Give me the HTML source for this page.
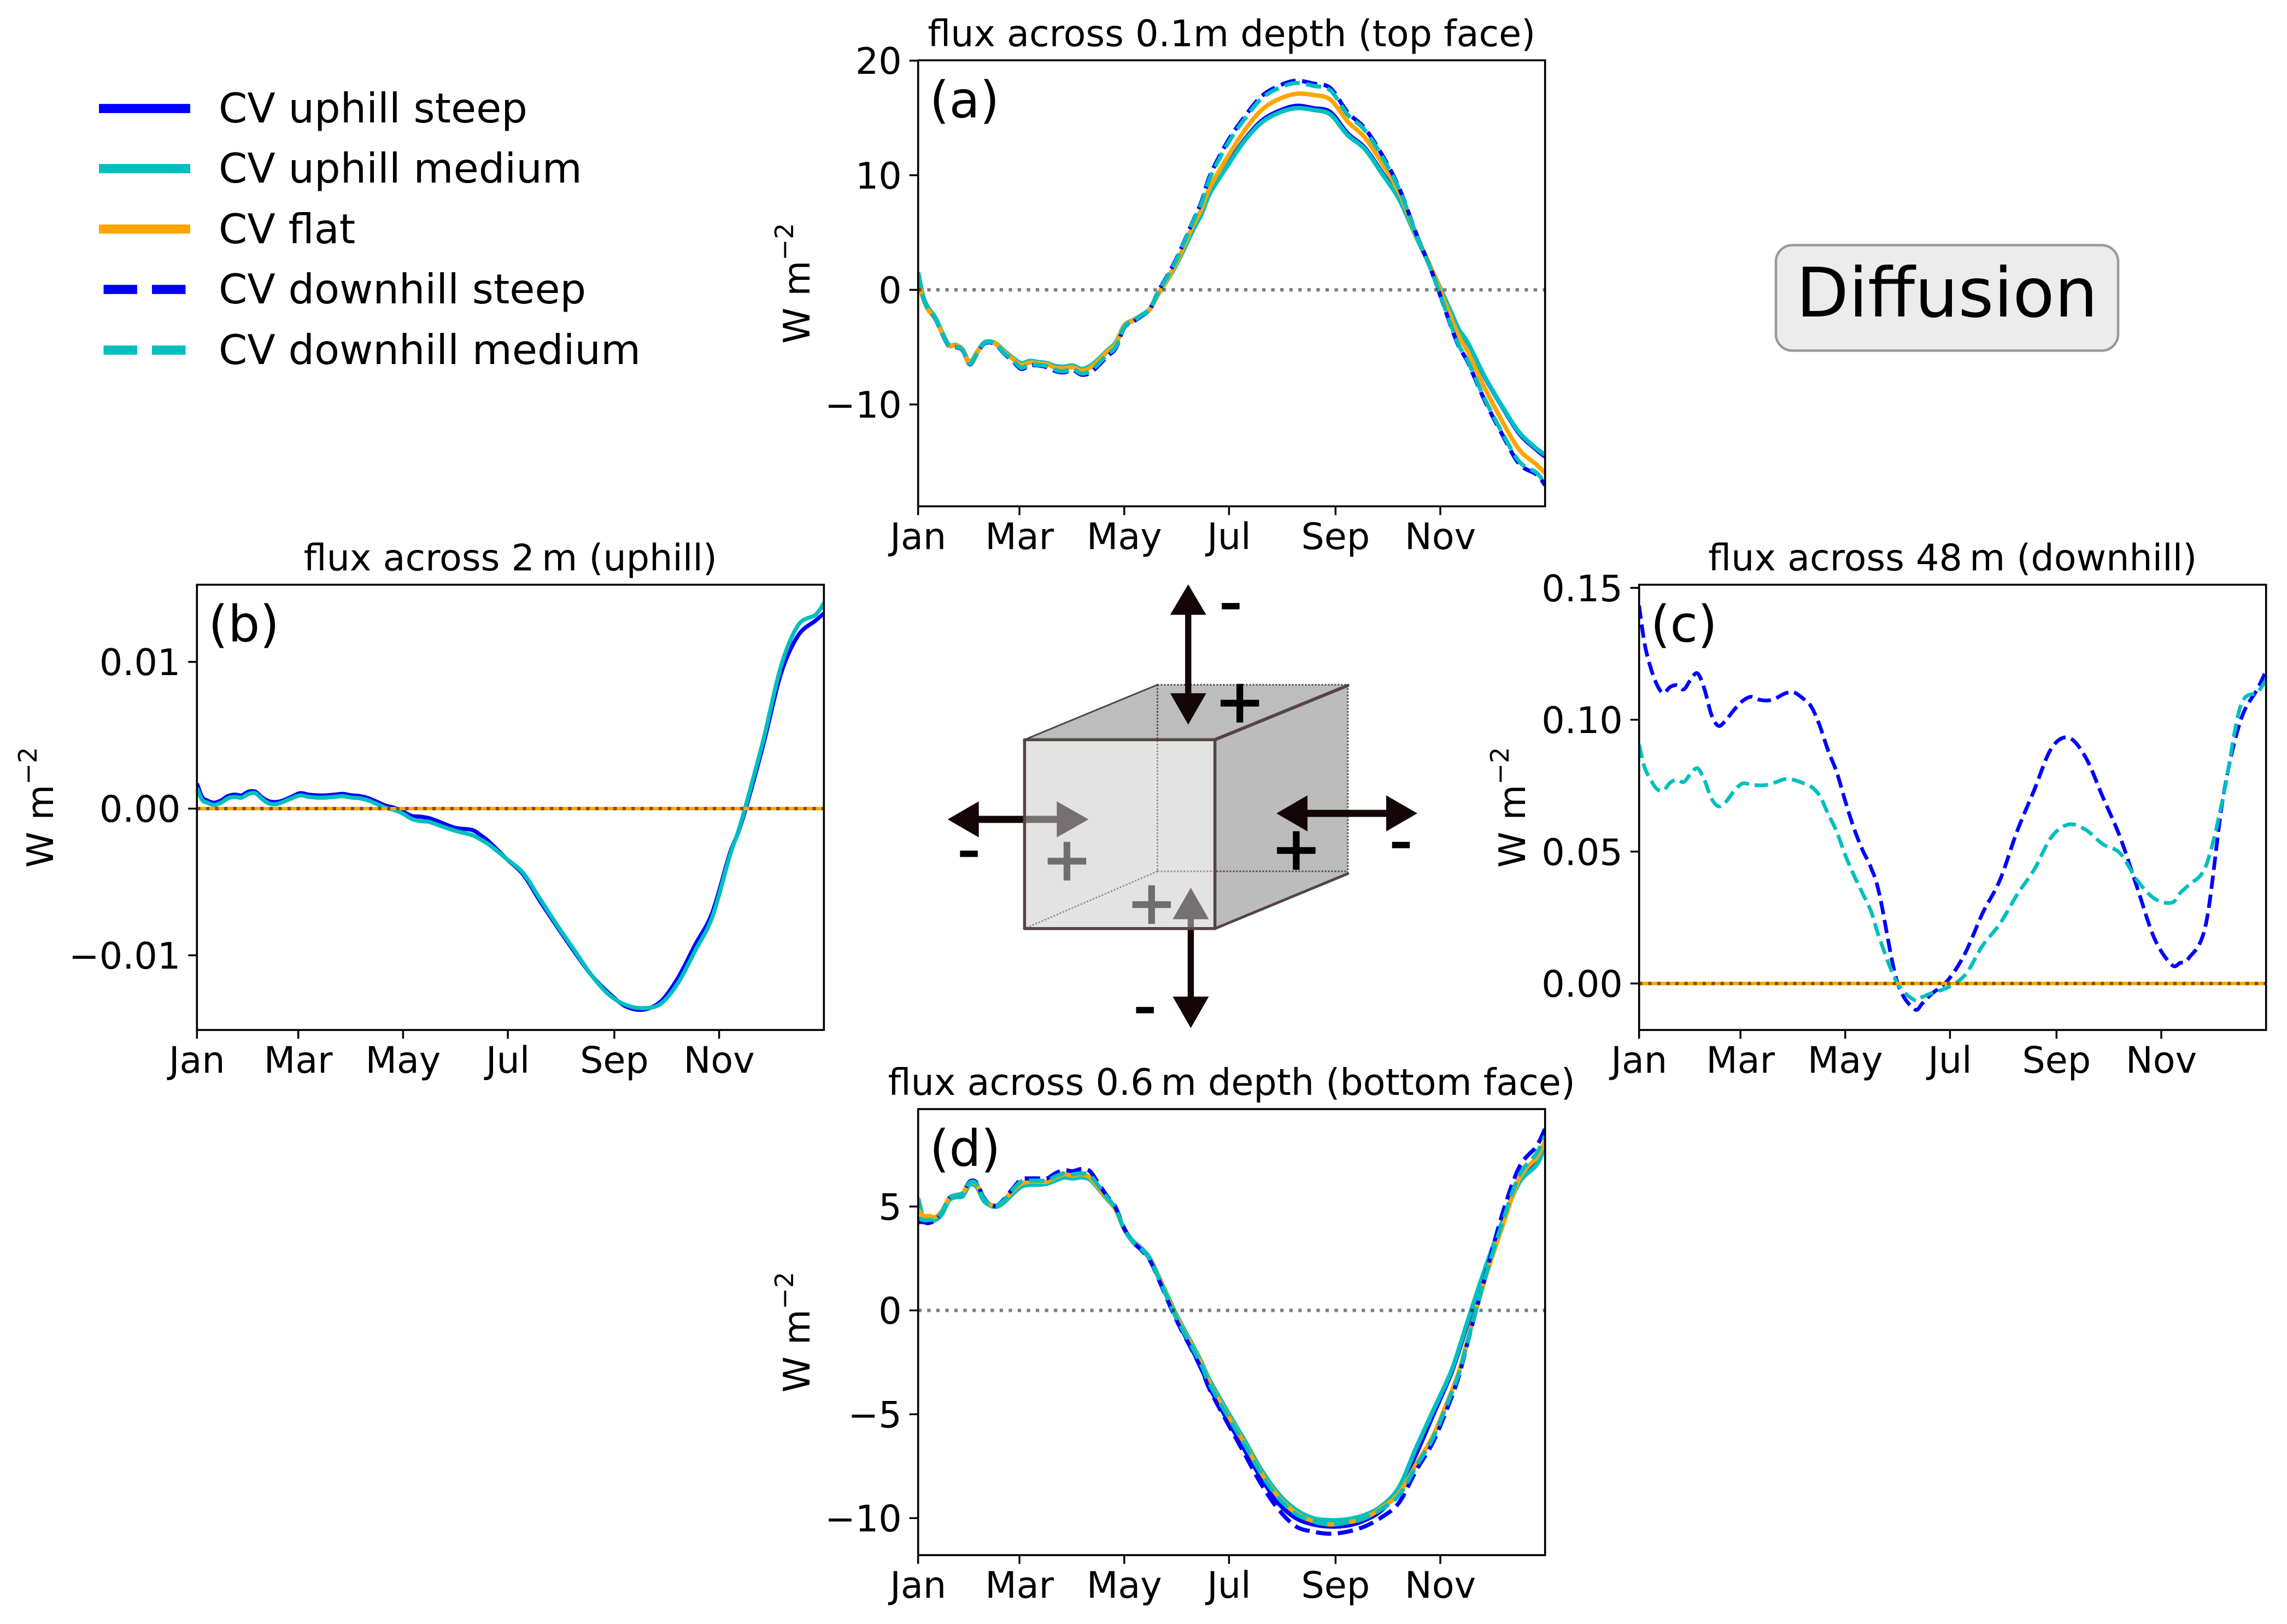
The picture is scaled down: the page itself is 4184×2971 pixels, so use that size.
<!DOCTYPE html>
<html lang="en">
<head>
<meta charset="utf-8">
<title>Diffusion flux across control volume faces</title>
<style>
html,body{margin:0;padding:0;background:#fff;width:4184px;height:2971px;overflow:hidden}
svg{display:block;position:absolute;left:0;top:0}
text{font-family:"DejaVu Sans","Liberation Sans",sans-serif;fill:#000}
</style>
</head>
<body>
<svg id="figure" xmlns="http://www.w3.org/2000/svg" width="4184" height="2971" viewBox="0 0 4184 2971">
  <rect x="0" y="0" width="4184" height="2971" fill="#ffffff"/>

  <g>
    <g>
      <line x1="181" x2="348" y1="198.5" y2="198.5" stroke="#0000ff" stroke-width="16.7"/>
      <text x="400" y="224" font-size="75">CV uphill steep</text>
    </g>
    <g>
      <line x1="181" x2="348" y1="308.5" y2="308.5" stroke="#00bfbf" stroke-width="16.7"/>
      <text x="400" y="334" font-size="75">CV uphill medium</text>
    </g>
    <g>
      <line x1="181" x2="348" y1="419" y2="419" stroke="#ffa500" stroke-width="16.7"/>
      <text x="400" y="445" font-size="75">CV flat</text>
    </g>
    <g>
      <line x1="189.5" x2="339.5" y1="529.5" y2="529.5" stroke="#0000ff" stroke-width="16.7" stroke-dasharray="61.5 27"/>
      <text x="400" y="555" font-size="75">CV downhill steep</text>
    </g>
    <g>
      <line x1="189.5" x2="339.5" y1="640.5" y2="640.5" stroke="#00bfbf" stroke-width="16.7" stroke-dasharray="61.5 27"/>
      <text x="400" y="666" font-size="75">CV downhill medium</text>
    </g>
  </g>

  <g>
    <rect x="3249" y="448.5" width="626" height="193" rx="30" ry="30" fill="#ececec" stroke="#999999" stroke-width="4.5"/>
    <text x="3562" y="579" font-size="125" text-anchor="middle">Diffusion</text>
  </g>

  <g>
    <polygon points="1874.4,1353.2 2117.5,1252.7 2465.8,1252.7 2222.7,1353.2" fill="#bdbdbd"/>
    <polygon points="2222.7,1353.2 2465.8,1255 2465.8,1598.3 2222.7,1698.8" fill="#bcbcbc"/>
    <g fill="none" stroke="#554545" stroke-width="3" stroke-dasharray="3 3">
      <line x1="2117.5" y1="1252.7" x2="2117.5" y2="1594"/>
      <line x1="2117.5" y1="1594" x2="2465.8" y2="1594"/>
      <line x1="2117.5" y1="1594" x2="1874.4" y2="1698.8"/>
      <line x1="2117.5" y1="1252.7" x2="2465.8" y2="1252.7"/>
      <line x1="2465.8" y1="1252.7" x2="2465.8" y2="1598.3"/>
    </g>
    <g fill="#140606">
      <rect x="1790" y="1492.5" width="145" height="13"/>
      <polygon points="1733.7,1499 1790.7,1466 1790.7,1532"/>
      <polygon points="1991.6,1499 1933.3,1466 1933.3,1532"/>
    </g>
    <g fill="#140606">
      <rect x="2172.8" y="1681" width="11.4" height="143"/>
      <polygon points="2178.5,1624 2145.5,1681.6 2211.5,1681.6"/>
      <polygon points="2178.5,1880.7 2145.5,1823.3 2211.5,1823.3"/>
    </g>
    <text x="1952" y="1608.8" font-size="107" text-anchor="middle" style="fill:#000;stroke:#000;stroke-width:3.5">+</text>
    <text x="2106.8" y="1688.7" font-size="107" text-anchor="middle" style="fill:#000;stroke:#000;stroke-width:3.5">+</text>
    <rect x="1874.4" y="1353.2" width="348.3" height="345.6" fill="#cccccc" fill-opacity="0.54"/>
    <g fill="none" stroke="#554545" stroke-linejoin="round" stroke-linecap="round">
      <rect x="1874.4" y="1353.2" width="348.3" height="345.6" stroke-width="5.5"/>
      <line x1="1874.4" y1="1353.2" x2="2117.5" y2="1252.7" stroke-width="3"/>
      <line x1="2222.7" y1="1353.2" x2="2465.8" y2="1254" stroke-width="6"/>
      <line x1="2222.7" y1="1698.8" x2="2465.8" y2="1598.3" stroke-width="5"/>
    </g>
    <g fill="#140606">
      <rect x="2168.1" y="1124" width="11.4" height="145"/>
      <polygon points="2173.8,1069 2140.8,1124.7 2206.8,1124.7"/>
      <polygon points="2173.8,1325.6 2140.8,1268.2 2206.8,1268.2"/>
    </g>
    <g fill="#140606">
      <rect x="2391" y="1481.5" width="146" height="13"/>
      <polygon points="2335.2,1488 2392,1455 2392,1521"/>
      <polygon points="2593,1488 2536,1455 2536,1521"/>
    </g>
    <text x="2268.2" y="1320.1" font-size="107" text-anchor="middle" style="fill:#000;stroke:#000;stroke-width:3.5">+</text>
    <text x="2371.4" y="1589.3" font-size="107" text-anchor="middle" style="fill:#000;stroke:#000;stroke-width:3.5">+</text>
    <text x="2251.5" y="1140.2" font-size="114" text-anchor="middle" style="fill:#000;stroke:#000;stroke-width:2.5">-</text>
    <text x="1772.6" y="1593.2" font-size="114" text-anchor="middle" style="fill:#000;stroke:#000;stroke-width:2.5">-</text>
    <text x="2563" y="1577" font-size="114" text-anchor="middle" style="fill:#000;stroke:#000;stroke-width:2.5">-</text>
    <text x="2094.7" y="1879" font-size="114" text-anchor="middle" style="fill:#000;stroke:#000;stroke-width:2.5">-</text>
  </g>
</svg>

<script>
const days = [0,3,6,10,14,18,22,26,30,34,38,42,46,50,55,60,65,70,75,80,85,90,95,100,105,110,115,120,125,130,135,140,150,160,165,170,180,190,200,210,220,230,240,250,260,270,280,290,300,310,315,320,330,340,350,360,365];
const monthLabels = ['Jan','Mar','May','Jul','Sep','Nov'];
const monthDays = [0,59,120,181,243,304];

const aUpSteep = [1.5,-0.7,-1.6,-2.45,-3.75,-4.85,-4.85,-5.25,-6.4,-5.55,-4.7,-4.55,-4.8,-5.4,-6.0,-6.5,-6.3,-6.35,-6.5,-6.75,-6.8,-6.7,-7.0,-6.75,-6.15,-5.35,-4.7,-3.15,-2.7,-2.25,-1.65,-0.3,2.2,5.3,6.7,8.55,10.9,13.1,14.75,15.6,16.05,15.85,15.5,13.65,12.4,10.25,8.0,4.65,1.45,-1.9,-3.55,-4.65,-7.65,-10.2,-12.55,-13.95,-14.55];
const aUpMedium = [1.5,-0.6,-1.6,-2.4,-3.7,-4.8,-4.8,-5.2,-6.3,-5.5,-4.65,-4.5,-4.75,-5.3,-5.9,-6.4,-6.2,-6.3,-6.4,-6.65,-6.7,-6.6,-6.9,-6.65,-6.05,-5.3,-4.6,-3.1,-2.65,-2.2,-1.65,-0.35,2.1,5.2,6.6,8.45,10.8,13.0,14.6,15.45,15.85,15.7,15.3,13.5,12.3,10.15,7.9,4.6,1.45,-1.85,-3.5,-4.6,-7.6,-10.15,-12.45,-13.85,-14.4];
const aFlat = [0.7,-0.8,-1.8,-2.5,-3.8,-4.85,-4.85,-5.2,-6.35,-5.55,-4.7,-4.55,-4.8,-5.4,-6.0,-6.55,-6.35,-6.4,-6.5,-6.8,-6.85,-6.75,-7.05,-6.8,-6.2,-5.4,-4.75,-3.15,-2.7,-2.25,-1.7,-0.3,2.25,5.6,7.05,9.0,11.55,13.9,15.7,16.65,17.1,17.0,16.6,14.7,13.3,11.05,8.5,4.8,1.45,-2.35,-4.1,-5.4,-8.6,-11.45,-13.95,-15.25,-16.0];
const aDownSteep = [1.5,-0.7,-1.7,-2.5,-3.85,-4.95,-5.0,-5.3,-6.5,-5.65,-4.75,-4.6,-4.9,-5.55,-6.2,-6.9,-6.6,-6.6,-6.75,-7.1,-7.2,-7.0,-7.4,-7.25,-6.6,-5.8,-5.1,-3.3,-2.8,-2.3,-1.65,-0.1,2.6,6.0,7.7,10.0,12.9,15.1,16.9,17.8,18.25,18.0,17.6,15.5,14.1,11.8,8.9,4.9,1.2,-3.1,-5.0,-6.3,-9.7,-12.6,-15.2,-16.1,-17.05];
const aDownMedium = [1.5,-0.7,-1.7,-2.45,-3.8,-4.9,-4.95,-5.25,-6.45,-5.6,-4.7,-4.55,-4.85,-5.5,-6.1,-6.8,-6.5,-6.55,-6.65,-7.0,-7.1,-6.9,-7.3,-7.1,-6.45,-5.65,-5.0,-3.25,-2.75,-2.25,-1.65,-0.15,2.5,5.95,7.55,9.8,12.7,14.9,16.7,17.6,18.05,17.8,17.4,15.3,13.95,11.65,8.8,4.85,1.2,-3.0,-4.9,-6.2,-9.55,-12.45,-15.0,-15.95,-16.95];
const aTicks = [-10,0,10,20];
const aTickLabels = ['\u221210','0','10','20'];

const bUpSteep = [0.0017,0.0008,0.00055,0.0004,0.00055,0.00085,0.00095,0.0009,0.00115,0.00115,0.00075,0.0005,0.00045,0.00055,0.0008,0.00105,0.00095,0.0009,0.0009,0.00095,0.001,0.0009,0.00085,0.0007,0.00045,0.0002,0.00005,-0.0002,-0.0005,-0.00055,-0.00065,-0.00085,-0.0013,-0.00145,-0.0018,-0.00225,-0.0034,-0.0045,-0.00635,-0.0081,-0.0098,-0.0114,-0.0126,-0.0135,-0.0137,-0.01315,-0.01155,-0.0093,-0.0071,-0.00315,-0.00165,0.0002,0.0045,0.0092,0.0118,0.0128,0.0133];
const bUpMedium = [0.0014,0.0006,0.0004,0.00025,0.0004,0.0007,0.0008,0.00075,0.001,0.00105,0.00065,0.00035,0.0003,0.00045,0.0007,0.0009,0.0008,0.00075,0.00075,0.0008,0.00085,0.00075,0.0007,0.00055,0.0003,0.00005,-0.0001,-0.00035,-0.0007,-0.00085,-0.0009,-0.0011,-0.0015,-0.0018,-0.0021,-0.00245,-0.0034,-0.0044,-0.0062,-0.008,-0.0097,-0.0114,-0.0127,-0.0134,-0.0136,-0.0133,-0.0119,-0.0097,-0.0074,-0.0033,-0.0016,0.0004,0.0048,0.0097,0.0125,0.0132,0.014];
const bFlat = [0,0,0,0,0,0,0,0,0,0,0,0,0,0,0,0,0,0,0,0,0,0,0,0,0,0,0,0,0,0,0,0,0,0,0,0,0,0,0,0,0,0,0,0,0,0,0,0,0,0,0,0,0,0,0,0,0];
const bTicks = [-0.01,0,0.01];
const bTickLabels = ['\u22120.01','0.00','0.01'];

const cDownSteep = [0.1433,0.1296,0.1213,0.1138,0.1101,0.1124,0.1131,0.1115,0.1152,0.1176,0.1117,0.1021,0.0977,0.0994,0.1035,0.107,0.1087,0.1076,0.1073,0.1083,0.11,0.1104,0.1083,0.1052,0.098,0.0884,0.0802,0.0692,0.059,0.0507,0.0439,0.0336,0.0012,-0.0096,-0.0075,-0.0041,0.0014,0.0117,0.0267,0.0391,0.0576,0.0733,0.0891,0.0932,0.0857,0.0706,0.0555,0.0363,0.0171,0.0071,0.0078,0.0096,0.0226,0.0706,0.0994,0.1117,0.1186];
const cDownMedium = [0.0905,0.0823,0.0781,0.074,0.0731,0.0761,0.0772,0.0764,0.0795,0.0816,0.0772,0.0703,0.0672,0.0685,0.0727,0.0758,0.0754,0.0751,0.0754,0.0764,0.0775,0.0772,0.0761,0.0747,0.0713,0.0644,0.0576,0.0487,0.0411,0.0343,0.0274,0.0171,0.0005,-0.0062,-0.0051,-0.0037,-0.0014,0.0034,0.0144,0.0226,0.0336,0.0432,0.0555,0.0603,0.0583,0.0528,0.0494,0.0391,0.0322,0.0306,0.0343,0.0374,0.0446,0.0706,0.1049,0.1104,0.1152];
const cFlat = [0,0,0,0,0,0,0,0,0,0,0,0,0,0,0,0,0,0,0,0,0,0,0,0,0,0,0,0,0,0,0,0,0,0,0,0,0,0,0,0,0,0,0,0,0,0,0,0,0,0,0,0,0,0,0,0,0];
const cTicks = [0,0.05,0.1,0.15];
const cTickLabels = ['0.00','0.05','0.10','0.15'];

const dUpSteep = [5.4,4.45,4.4,4.35,4.7,5.35,5.5,5.6,6.1,6.0,5.35,5.05,5.0,5.25,5.7,6.05,6.1,6.1,6.1,6.3,6.45,6.4,6.45,6.35,5.9,5.4,4.85,3.9,3.3,2.95,2.45,1.6,-0.3,-1.95,-2.8,-3.75,-5.25,-6.7,-8.1,-9.3,-10.0,-10.3,-10.4,-10.35,-10.1,-9.6,-8.6,-6.9,-5.0,-3.1,-1.9,-0.6,1.9,4.2,6.2,7.1,8.0];
const dUpMedium = [5.4,4.45,4.4,4.35,4.65,5.3,5.45,5.5,6.05,5.95,5.3,5.05,5.0,5.2,5.6,5.95,6.05,6.05,6.1,6.25,6.4,6.35,6.4,6.3,5.85,5.35,4.85,3.9,3.35,3.0,2.5,1.65,-0.15,-1.7,-2.5,-3.4,-4.85,-6.25,-7.7,-8.85,-9.6,-10.0,-10.1,-10.05,-9.85,-9.4,-8.5,-6.6,-4.8,-3.0,-1.8,-0.5,2.0,4.25,6.15,7.0,7.9];
const dFlat = [4.85,4.55,4.55,4.5,4.8,5.4,5.55,5.65,6.15,6.05,5.4,5.1,5.05,5.3,5.75,6.1,6.2,6.2,6.2,6.4,6.55,6.5,6.55,6.4,5.9,5.4,4.85,3.9,3.3,2.95,2.45,1.6,-0.25,-1.8,-2.6,-3.55,-5.0,-6.4,-7.85,-9.0,-9.75,-10.15,-10.3,-10.2,-10.0,-9.5,-8.8,-7.4,-6.0,-4.0,-2.9,-1.4,1.5,4.0,6.35,7.35,8.15];
const dDownSteep = [4.25,4.25,4.2,4.35,4.75,5.4,5.55,5.65,6.2,6.15,5.45,5.1,5.05,5.35,5.85,6.3,6.35,6.35,6.35,6.6,6.75,6.7,6.8,6.7,6.1,5.5,4.95,3.95,3.3,2.9,2.4,1.5,-0.4,-2.0,-2.85,-3.85,-5.4,-6.9,-8.4,-9.6,-10.4,-10.65,-10.75,-10.65,-10.4,-9.95,-9.25,-7.7,-6.3,-4.3,-3.1,-1.5,1.6,4.6,6.9,7.9,8.75];
const dDownMedium = [4.45,4.35,4.35,4.4,4.75,5.4,5.55,5.65,6.15,6.1,5.4,5.1,5.05,5.3,5.8,6.2,6.25,6.25,6.25,6.45,6.6,6.55,6.6,6.5,6.0,5.45,4.9,3.9,3.3,2.95,2.45,1.55,-0.3,-1.85,-2.65,-3.6,-5.05,-6.45,-7.9,-9.05,-9.8,-10.15,-10.3,-10.2,-10.0,-9.55,-8.9,-7.5,-6.1,-4.1,-3.0,-1.45,1.55,4.2,6.5,7.55,8.4];
const dTicks = [-10,-5,0,5];
const dTickLabels = ['\u221210','\u22125','0','5'];

const SVG_NS = 'http://www.w3.org/2000/svg';
const figure = document.getElementById('figure');
const BLUE = '#0000ff', TEAL = '#00bfbf', ORANGE = '#ffa500';
const SOLID = 'none', DASHED = '28 12', DASHED_THIN = '24.5 10.5';
const TICK_FONT = 66.7;

function make(tag, attrs, parent) {
  const node = document.createElementNS(SVG_NS, tag);
  for (const key in attrs) node.setAttribute(key, attrs[key]);
  parent.appendChild(node);
  return node;
}

function smoothPath(xs, ys) {
  let d = 'M' + xs[0].toFixed(1) + ' ' + ys[0].toFixed(1);
  for (let i = 0; i < xs.length - 1; i++) {
    const p0 = Math.max(i - 1, 0), p3 = Math.min(i + 2, xs.length - 1);
    const c1x = xs[i] + (xs[i + 1] - xs[p0]) / 6, c1y = ys[i] + (ys[i + 1] - ys[p0]) / 6;
    const c2x = xs[i + 1] - (xs[p3] - xs[i]) / 6, c2y = ys[i + 1] - (ys[p3] - ys[i]) / 6;
    d += 'C' + c1x.toFixed(1) + ' ' + c1y.toFixed(1) + ' ' + c2x.toFixed(1) + ' ' + c2y.toFixed(1) + ' ' + xs[i + 1].toFixed(1) + ' ' + ys[i + 1].toFixed(1);
  }
  return d;
}

function drawPanel(p) {
  const panel = make('g', {}, figure);
  
  

  const xScale = day => p.left + (day / 365) * (p.right - p.left);
  const yScale = v => p.top + ((p.ymax - v) / (p.ymax - p.ymin)) * (p.bottom - p.top);

  const defs = make('defs', {}, panel);
  const clip = make('clipPath', { id: 'clip-' + p.id }, defs);
  make('rect', { x: p.left, y: p.top, width: p.right - p.left, height: p.bottom - p.top }, clip);

  const plot = make('g', { 'clip-path': 'url(#clip-' + p.id + ')' }, panel);
  
  

  const xs = days.map(xScale);
  p.series.forEach(s => {
    const line = make('path', {
      d: smoothPath(xs, s.values.map(yScale)),
      fill: 'none',
      stroke: s.color,
      'stroke-width': s.width,
      'stroke-dasharray': s.dash,
      'stroke-linejoin': 'round'
    }, plot);
    
    
  });

  const zero = make('line', {
    x1: p.left, x2: p.right, y1: yScale(0), y2: yScale(0),
    stroke: '#000', 'stroke-opacity': 0.5, 'stroke-width': 6.25, 'stroke-dasharray': '6.25 10.31'
  }, plot);
  
  

  const frame = make('rect', {
    x: p.left, y: p.top, width: p.right - p.left, height: p.bottom - p.top,
    fill: 'none', stroke: '#000', 'stroke-width': 3.6
  }, panel);
  
  

  p.ticks.forEach((v, i) => {
    const y = yScale(v);
    const tick = make('line', { x1: p.left - 16, x2: p.left, y1: y, y2: y, stroke: '#000', 'stroke-width': 3.4 }, panel);
    
    
    const label = make('text', { x: p.left - 30, y: y + 24.3, 'font-size': TICK_FONT, 'text-anchor': 'end' }, panel);
    label.textContent = p.tickLabels[i];
    
    
  });

  monthDays.forEach((day, i) => {
    const x = xScale(day);
    const tick = make('line', { x1: x, x2: x, y1: p.bottom, y2: p.bottom + 16, stroke: '#000', 'stroke-width': 3.4 }, panel);
    
    
    const label = make('text', { x: x, y: p.bottom + 78, 'font-size': TICK_FONT, 'text-anchor': 'middle' }, panel);
    label.textContent = monthLabels[i];
    
    
  });

  const title = make('text', { x: (p.left + p.right) / 2 + (p.titleShift || 0), y: p.top - 26, 'font-size': TICK_FONT, 'text-anchor': 'middle' }, panel);
  title.textContent = p.title;
  
  

  const letter = make('text', { x: p.left + 21, y: p.top + 104, 'font-size': 91.7 }, panel);
  letter.textContent = '(' + p.id + ')';
  
  

  const cy = (p.top + p.bottom) / 2;
  const yLabel = make('text', { x: p.labelX, y: cy, 'font-size': TICK_FONT, 'text-anchor': 'middle', transform: 'rotate(-90 ' + p.labelX + ' ' + cy + ')' }, panel);
  
  
  const unit = make('tspan', {}, yLabel);
  unit.textContent = 'W m';
  const power = make('tspan', { dy: -30, 'font-size': 46.7 }, yLabel);
  power.textContent = '\u22122';
}

drawPanel({
  id: 'a', title: 'flux across 0.1m depth (top face)',
  left: 1679.7, right: 2826.7, top: 110.3, bottom: 926.3, ymin: -18.89, ymax: 20.03, labelX: 1481,
  ticks: aTicks, tickLabels: aTickLabels,
  series: [
    { name: 'uphill-steep', values: aUpSteep, color: BLUE, dash: SOLID, width: 8 },
    { name: 'uphill-medium', values: aUpMedium, color: TEAL, dash: SOLID, width: 8 },
    { name: 'flat', values: aFlat, color: ORANGE, dash: SOLID, width: 8 },
    { name: 'downhill-steep', values: aDownSteep, color: BLUE, dash: DASHED, width: 7.5 },
    { name: 'downhill-medium', values: aDownMedium, color: TEAL, dash: DASHED, width: 7.5 }
  ]
});

drawPanel({
  id: 'b', title: 'flux across 2\u2009m (uphill)',
  left: 360.3, right: 1507.3, top: 1069.7, bottom: 1884.3, ymin: -0.01509, ymax: 0.01526, labelX: 97,
  ticks: bTicks, tickLabels: bTickLabels,
  series: [
    { name: 'uphill-steep', values: bUpSteep, color: BLUE, dash: SOLID, width: 7.5 },
    { name: 'uphill-medium', values: bUpMedium, color: TEAL, dash: SOLID, width: 7.5 },
    { name: 'flat', values: bFlat, color: ORANGE, dash: SOLID, width: 6.25 }
  ]
});

drawPanel({
  id: 'c', title: 'flux across 48\u2009m (downhill)',
  left: 2998.7, right: 4145.7, top: 1069.7, bottom: 1884.3, ymin: -0.01764, ymax: 0.1512, labelX: 2790,
  ticks: cTicks, tickLabels: cTickLabels,
  series: [
    { name: 'downhill-steep', values: cDownSteep, color: BLUE, dash: DASHED_THIN, width: 6.8 },
    { name: 'downhill-medium', values: cDownMedium, color: TEAL, dash: DASHED_THIN, width: 6.8 },
    { name: 'flat', values: cFlat, color: ORANGE, dash: SOLID, width: 6.25 }
  ]
});

drawPanel({
  id: 'd', title: 'flux across 0.6\u2009m depth (bottom face)',
  left: 1679.7, right: 2826.7, top: 2029, bottom: 2845, ymin: -11.78, ymax: 9.69, labelX: 1481,
  ticks: dTicks, tickLabels: dTickLabels,
  series: [
    { name: 'uphill-steep', values: dUpSteep, color: BLUE, dash: SOLID, width: 8 },
    { name: 'uphill-medium', values: dUpMedium, color: TEAL, dash: SOLID, width: 8 },
    { name: 'flat', values: dFlat, color: ORANGE, dash: SOLID, width: 8 },
    { name: 'downhill-steep', values: dDownSteep, color: BLUE, dash: DASHED, width: 7.5 },
    { name: 'downhill-medium', values: dDownMedium, color: TEAL, dash: DASHED, width: 7.5 }
  ]
});
</script>
</body>
</html>
